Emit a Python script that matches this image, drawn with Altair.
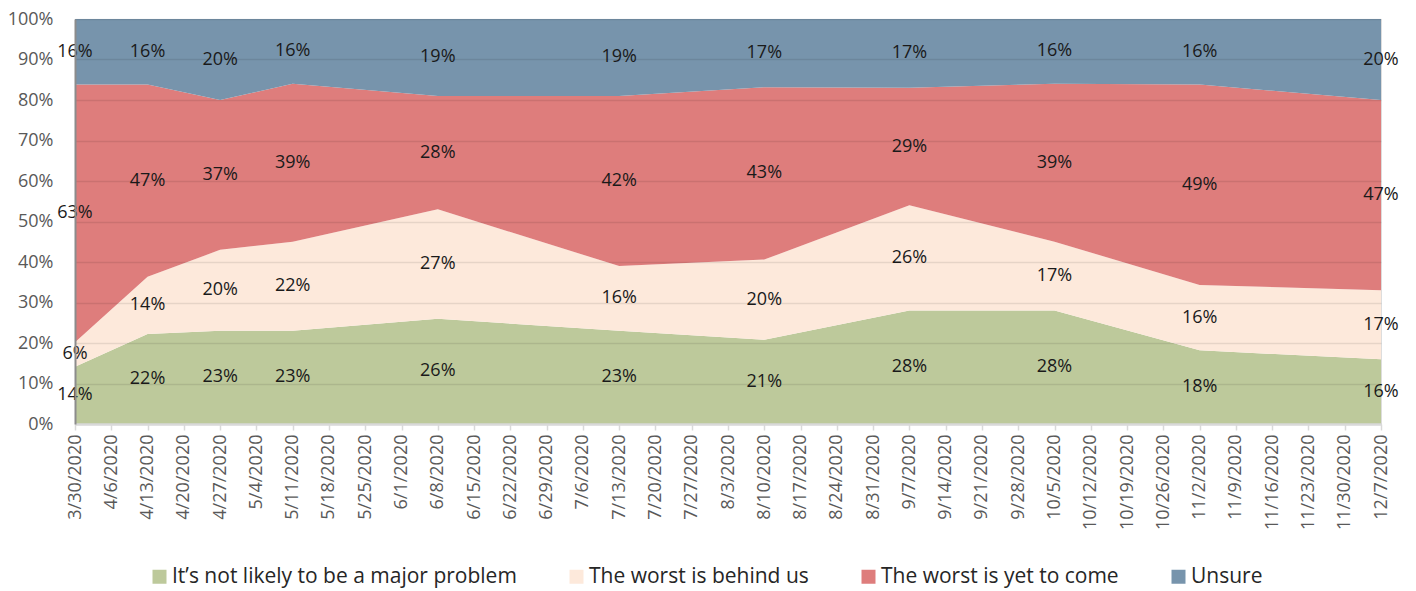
import altair as alt
import pandas as pd

weeks = ["3/30/2020", "4/6/2020", "4/13/2020", "4/20/2020", "4/27/2020", "5/4/2020",
         "5/11/2020", "5/18/2020", "5/25/2020", "6/1/2020", "6/8/2020", "6/15/2020",
         "6/22/2020", "6/29/2020", "7/6/2020", "7/13/2020", "7/20/2020", "7/27/2020",
         "8/3/2020", "8/10/2020", "8/17/2020", "8/24/2020", "8/31/2020", "9/7/2020",
         "9/14/2020", "9/21/2020", "9/28/2020", "10/5/2020", "10/12/2020", "10/19/2020",
         "10/26/2020", "11/2/2020", "11/9/2020", "11/16/2020", "11/23/2020", "11/30/2020",
         "12/7/2020"]

survey_dates = ["3/30/2020", "4/13/2020", "4/27/2020", "5/11/2020", "6/8/2020", "7/13/2020",
                "8/10/2020", "9/7/2020", "10/5/2020", "11/2/2020", "12/7/2020"]

series_names = ["It\u2019s not likely to be a major problem", "The worst is behind us",
                "The worst is yet to come", "Unsure"]
not_major = [14, 22, 23, 23, 26, 23, 21, 28, 28, 18, 16]
behind_us = [6, 14, 20, 22, 27, 16, 20, 26, 17, 16, 17]
yet_to_come = [63, 47, 37, 39, 28, 42, 43, 29, 39, 49, 47]
unsure = [16, 16, 20, 16, 19, 19, 17, 17, 16, 16, 20]
colors = ["#BDC99B", "#FDE9DB", "#DE7D7C", "#7794AC"]

series_values = [not_major, behind_us, yet_to_come, unsure]
rows = []
for i, name in enumerate(series_names):
    for d, v in zip(survey_dates, series_values[i]):
        rows.append({"week": weeks.index(d), "series": name, "value": v, "order": i})
df = pd.DataFrame(rows)

FONT = "Open Sans"
label_expr = "[" + ",".join("'" + w + "'" for w in weeks) + "][datum.value]"

x_enc = alt.X(
    "week:Q",
    scale=alt.Scale(domain=[0, len(weeks) - 1], nice=False, zero=False),
    axis=alt.Axis(
        title=None, values=list(range(len(weeks))), tickCount=len(weeks) + 5,
        labelExpr=label_expr,
        labelAngle=270, labelOverlap=False, labelFlush=False, labelBound=False,
        grid=False, ticks=True, tickColor="#D9D9D9", tickSize=6, tickWidth=1.5,
        domainColor="#D9D9D9", domainWidth=2.5, labelPadding=4,
        labelFont=FONT, labelFontSize=18, labelColor="#595959", zindex=1,
    ),
)

area = alt.Chart(df).mark_area(opacity=1).encode(
    x=x_enc,
    y=alt.Y(
        "value:Q", stack="normalize",
        scale=alt.Scale(domain=[0, 1], nice=False),
        axis=alt.Axis(
            title=None, values=[i / 10 for i in range(11)], tickCount=12, format=".0%",
            grid=True, gridColor="#000000", gridOpacity=0.09, gridWidth=1.5,
            ticks=False, domainColor="#8C8C8C", domainWidth=2, labelPadding=22,
            labelFont=FONT, labelFontSize=18, labelColor="#595959", zindex=1,
        ),
    ),
    color=alt.Color(
        "series:N",
        scale=alt.Scale(domain=series_names, range=colors),
        legend=alt.Legend(
            title=None, orient="none", direction="horizontal", legendX=74, legendY=547,
            symbolType="square", symbolSize=196, symbolStrokeWidth=0, symbolOpacity=1,
            labelFont=FONT, labelFontSize=21, labelColor="#262626", labelOffset=2,
            columnPadding=49, labelLimit=600,
        ),
    ),
    order=alt.Order("order:Q", sort="ascending"),
)

labels = alt.Chart(df).transform_stack(
    stack="value", groupby=["week"], sort=[alt.SortField("order", "ascending")],
    as_=["y0", "y1"], offset="normalize",
).transform_calculate(
    mid="(datum.y0 + datum.y1) / 2",
    txt="datum.value + '%'",
).mark_text(font=FONT, fontSize=18, color="#1A1A1A", baseline="middle", align="center").encode(
    x=alt.X("week:Q", scale=alt.Scale(domain=[0, len(weeks) - 1], nice=False, zero=False)),
    y=alt.Y("mid:Q", scale=alt.Scale(domain=[0, 1], nice=False)),
    text="txt:N",
)

chart = alt.layer(area, labels).properties(
    width=1306, height=405,
    autosize=alt.AutoSizeParams(type="none"),
    padding={"left": 67, "top": 11, "right": 25, "bottom": 166},
).configure_view(stroke=None).configure(background="white")

chart.save("out.html", embed_options={"renderer": "svg", "actions": False})
